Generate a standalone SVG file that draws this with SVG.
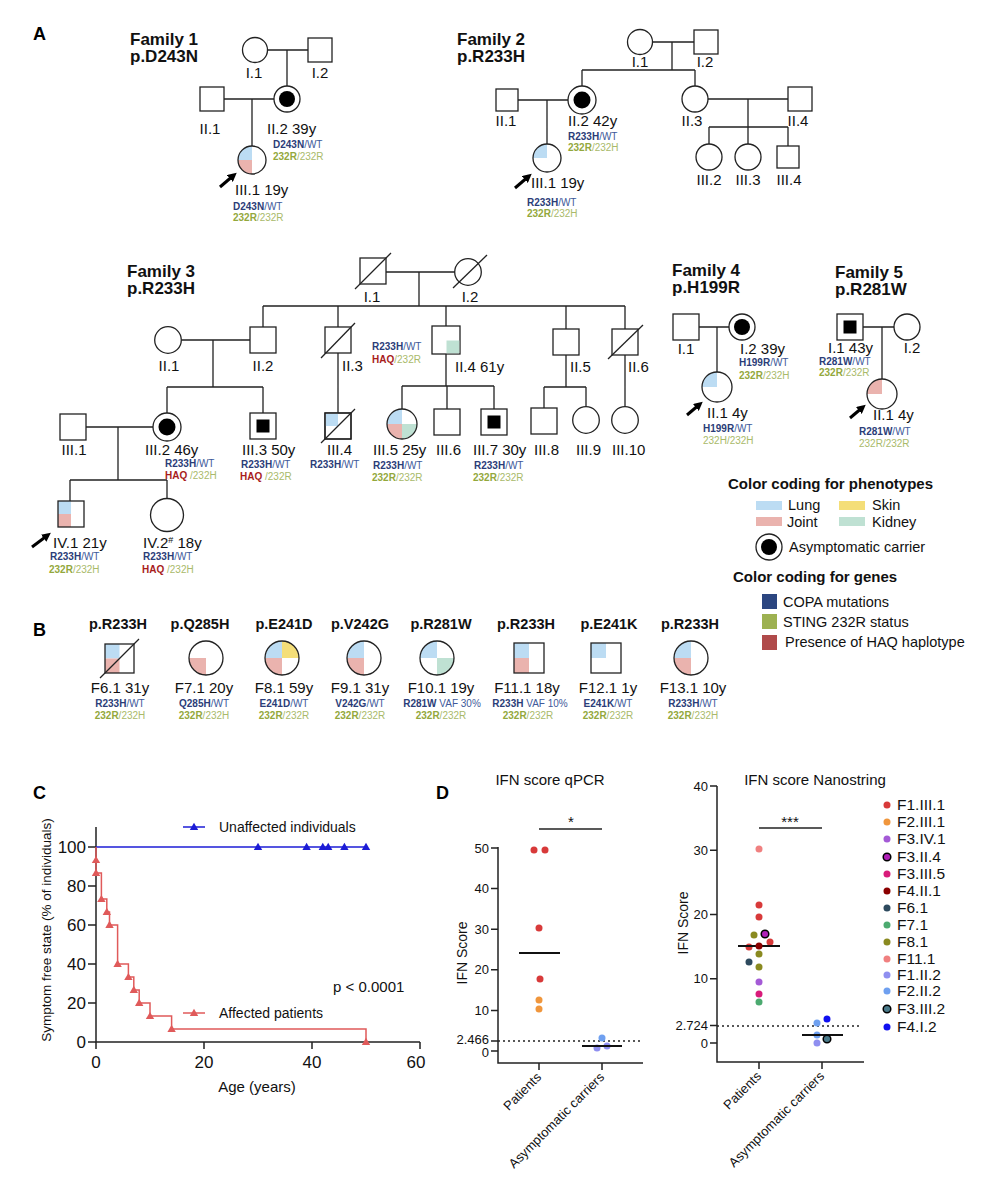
<svg xmlns="http://www.w3.org/2000/svg" width="988" height="1200" viewBox="0 0 988 1200">
<defs>
<style>
text{font-family:"Liberation Sans",Arial,sans-serif;fill:#111}
.pl{font-size:18px;font-weight:bold;fill:#000}
.ft{font-size:17px;font-weight:bold;fill:#111}
.bt{font-size:14.5px;font-weight:bold;fill:#111;text-anchor:middle}
.id{font-size:15px}
.mid{text-anchor:middle}
.g{font-size:10px}
.nb{font-weight:bold;fill:#2b3d78}
.nn{fill:#40599a}
.gb{font-weight:bold;fill:#93a83c}
.gn{fill:#a9ba6a}
.hb{font-weight:bold;fill:#a81c1c}
.sh{fill:#fff;stroke:#222;stroke-width:1.3}
.o{fill:none;stroke:#222;stroke-width:1.3}
.ln{fill:none;stroke:#222;stroke-width:1.3}
.lung{fill:#bcdcf3}
.joint{fill:#eab3ae}
.skin{fill:#f4de78}
.kid{fill:#bfe1d3}
.blk{fill:#000}
.arw{stroke:#000;stroke-width:3;marker-end:url(#pa)}
.lg{font-size:14.5px}
.lgh{font-size:15px;font-weight:bold}
.ax{fill:none;stroke:#222;stroke-width:1.5}
.tk{font-size:17px}
.tk2{font-size:13px;text-anchor:end}
.dt{stroke:#222;stroke-width:1.5;stroke-dasharray:2 3}
.med{stroke:#111;stroke-width:2}
.dl{font-size:15.5px}
</style>
<marker id="pa" viewBox="0 0 10 10" refX="6" refY="5" markerWidth="3" markerHeight="3" orient="auto" markerUnits="strokeWidth"><path d="M0,0 L10,5 L0,10 Z" fill="#000"/></marker>
<path id="tri" d="M0,-4.2 L4.2,3 L-4.2,3 Z"/>
</defs>
<rect width="988" height="1200" fill="#fff"/>

<!-- Panel labels -->
<text class="pl" x="33" y="40">A</text>
<text class="pl" x="33" y="636">B</text>
<text class="pl" x="33" y="799">C</text>
<text class="pl" x="436" y="799">D</text>

<!-- ================= FAMILY 1 ================= -->
<g id="family1">
<text class="ft" x="130" y="45">Family 1</text>
<text class="ft" x="130" y="62">p.D243N</text>
<g id="connectors-f1">
<path class="ln" d="M267.5,50 H308 M287,50 V86 M224,99 H274 M252,99 V146"/>
</g>
<g id="f1-I1"><circle class="sh" cx="255" cy="50" r="12.5"/><text class="id mid" x="254" y="78">I.1</text></g>
<g id="f1-I2"><rect class="sh" x="308" y="38" width="24" height="24"/><text class="id mid" x="320" y="78">I.2</text></g>
<g id="f1-II1"><rect class="sh" x="200" y="87" width="24" height="24"/><text class="id mid" x="210" y="134">II.1</text></g>
<g id="f1-II2"><circle class="sh" cx="287" cy="99" r="13"/><circle class="blk" cx="287" cy="99" r="8"/>
<text class="id" x="267" y="134">II.2 39y</text>
<text class="g" x="273" y="148"><tspan class="nb">D243N</tspan><tspan class="nn">/WT</tspan></text>
<text class="g" x="273" y="160"><tspan class="gb">232R</tspan><tspan class="gn">/232R</tspan></text></g>
<g id="f1-III1">
<path class="lung" d="M252,160 H238 A14,14 0 0 1 252,146 Z"/>
<path class="joint" d="M252,160 V174 A14,14 0 0 1 238,160 Z"/>
<circle class="o" cx="252" cy="160" r="14"/>
<line class="arw" x1="220" y1="187" x2="234" y2="175"/>
<text class="id" x="235" y="195">III.1 19y</text>
<text class="g" x="233" y="210"><tspan class="nb">D243N</tspan><tspan class="nn">/WT</tspan></text>
<text class="g" x="233" y="221"><tspan class="gb">232R</tspan><tspan class="gn">/232R</tspan></text></g>
</g>

<!-- ================= FAMILY 2 ================= -->
<g id="family2">
<text class="ft" x="457" y="45">Family 2</text>
<text class="ft" x="457" y="62">p.R233H</text>
<g id="connectors-f2">
<path class="ln" d="M652.5,42 H694 M672,42 V70 M582,70 H695 M582,70 V86 M695,70 V86 M518,100 H568 M547,100 V144 M708,99 H788 M748,99 V127 M709,127 H788 M709,127 V144 M748,127 V144 M788,127 V146"/>
</g>
<g id="f2-I1"><circle class="sh" cx="640" cy="42" r="12.5"/><text class="id mid" x="640" y="67">I.1</text></g>
<g id="f2-I2"><rect class="sh" x="694" y="30" width="24" height="24"/><text class="id mid" x="705" y="67">I.2</text></g>
<g id="f2-II1"><rect class="sh" x="496" y="89" width="22" height="22"/><text class="id mid" x="506" y="126">II.1</text></g>
<g id="f2-II2"><circle class="sh" cx="582" cy="100" r="14"/><circle class="blk" cx="582" cy="100" r="8.5"/>
<text class="id" x="568" y="126">II.2 42y</text>
<text class="g" x="568" y="140"><tspan class="nb">R233H</tspan><tspan class="nn">/WT</tspan></text>
<text class="g" x="568" y="151"><tspan class="gb">232R</tspan><tspan class="gn">/232H</tspan></text></g>
<g id="f2-II3"><circle class="sh" cx="695" cy="99" r="13"/><text class="id mid" x="692" y="126">II.3</text></g>
<g id="f2-II4"><rect class="sh" x="788" y="87" width="24" height="24"/><text class="id mid" x="798" y="126">II.4</text></g>
<g id="f2-III1">
<path class="lung" d="M547,158 H533 A14,14 0 0 1 547,144 Z"/>
<circle class="o" cx="547" cy="158" r="14"/>
<line class="arw" x1="515" y1="188" x2="529" y2="176"/>
<text class="id" x="531" y="188">III.1 19y</text>
<text class="g" x="527" y="206"><tspan class="nb">R233H</tspan><tspan class="nn">/WT</tspan></text>
<text class="g" x="527" y="217"><tspan class="gb">232R</tspan><tspan class="gn">/232H</tspan></text></g>
<g id="f2-III2"><circle class="sh" cx="709" cy="157" r="13"/><text class="id mid" x="709" y="185">III.2</text></g>
<g id="f2-III3"><circle class="sh" cx="748" cy="157" r="13"/><text class="id mid" x="748" y="185">III.3</text></g>
<g id="f2-III4"><rect class="sh" x="777" y="146" width="22" height="22"/><text class="id mid" x="789" y="185">III.4</text></g>
</g>

<!-- ================= FAMILY 3 ================= -->
<g id="family3">
<text class="ft" x="127" y="277">Family 3</text>
<text class="ft" x="127" y="294">p.R233H</text>
<g id="connectors-f3">
<path class="ln" d="M386,272 H455 M419,272 V306 M263,306 H625 M263,306 V327 M338,306 V327 M446,306 V326 M566,306 V329 M625,306 V329
M181.3,340 H250 M213,340 V387 M167,387 H263 M167,387 V413 M263,387 V413
M338,353 V413 M446,354 V386 M402,386 H494 M402,386 V409 M447,386 V409 M494,386 V409
M566,355 V387 M544,387 H586 M544,387 V408 M586,387 V406.7 M625,355 V406.7
M86,427 H153 M118,427 V480 M70,480 H167 M70,480 V501 M167,480 V498.5"/>
</g>
<g id="f3-I1"><rect class="sh" x="360" y="258" width="26" height="26"/><line class="ln" x1="355" y1="289" x2="391" y2="253"/><text class="id mid" x="372" y="302">I.1</text></g>
<g id="f3-I2"><circle class="sh" cx="468" cy="272" r="13.3"/><line class="ln" x1="453" y1="288" x2="487" y2="255"/><text class="id mid" x="470" y="302">I.2</text></g>
<g id="f3-II1"><circle class="sh" cx="168" cy="340" r="13.3"/><text class="id mid" x="169" y="371">II.1</text></g>
<g id="f3-II2"><rect class="sh" x="250" y="327" width="26" height="26"/><text class="id mid" x="263" y="371">II.2</text></g>
<g id="f3-II3"><rect class="sh" x="325" y="327" width="26" height="26"/><line class="ln" x1="321" y1="358" x2="355" y2="323"/><text class="id" x="342" y="371">II.3</text></g>
<g id="f3-II4">
<rect class="sh" x="432" y="326" width="28" height="28"/>
<rect class="kid" x="446.5" y="340.5" width="12.8" height="12.8"/>
<text class="g" x="372" y="350"><tspan class="nb">R233H</tspan><tspan class="nn">/WT</tspan></text>
<text class="g" x="372" y="363"><tspan class="hb">HAQ</tspan><tspan class="gn">/232R</tspan></text>
<text class="id" x="455" y="372">II.4 61y</text></g>
<g id="f3-II5"><rect class="sh" x="553" y="329" width="26" height="26"/><text class="id" x="570" y="372">II.5</text></g>
<g id="f3-II6"><rect class="sh" x="612" y="329" width="26" height="26"/><line class="ln" x1="608" y1="359" x2="643" y2="325"/><text class="id" x="628" y="372">II.6</text></g>
<g id="f3-III1"><rect class="sh" x="60" y="414" width="26" height="26"/><text class="id mid" x="74" y="455">III.1</text></g>
<g id="f3-III2"><circle class="sh" cx="167" cy="427" r="14"/><circle class="blk" cx="167" cy="427" r="8.5"/>
<text class="id" x="145" y="455">III.2 46y</text>
<text class="g" x="165" y="467"><tspan class="nb">R233H</tspan><tspan class="nn">/WT</tspan></text>
<text class="g" x="165" y="479"><tspan class="hb">HAQ</tspan><tspan class="gn"> /232H</tspan></text></g>
<g id="f3-III3"><rect class="sh" x="250" y="413" width="26" height="26"/><rect class="blk" x="256.5" y="419.5" width="13" height="13"/>
<text class="id" x="242" y="455">III.3 50y</text>
<text class="g" x="241" y="468"><tspan class="nb">R233H</tspan><tspan class="nn">/WT</tspan></text>
<text class="g" x="240" y="480"><tspan class="hb">HAQ</tspan><tspan class="gn"> /232R</tspan></text></g>
<g id="f3-III4"><rect class="sh" x="325" y="413" width="26" height="26"/><rect class="lung" x="325.7" y="413.7" width="12.3" height="12.3"/><rect class="o" x="325" y="413" width="26" height="26"/>
<line class="ln" x1="321" y1="443" x2="355" y2="409"/>
<text class="id" x="327" y="455">III.4</text>
<text class="g" x="310" y="468"><tspan class="nb">R233H</tspan><tspan class="nn">/WT</tspan></text></g>
<g id="f3-III5">
<path class="lung" d="M402,424 H387 A15,15 0 0 1 402,409 Z"/>
<path class="joint" d="M402,424 V439 A15,15 0 0 1 387,424 Z"/>
<path class="kid" d="M402,424 H417 A15,15 0 0 1 402,439 Z"/>
<circle class="o" cx="402" cy="424" r="15"/>
<text class="id" x="373" y="455">III.5 25y</text>
<text class="g" x="373" y="469"><tspan class="nb">R233H</tspan><tspan class="nn">/WT</tspan></text>
<text class="g" x="372" y="481"><tspan class="gb">232R</tspan><tspan class="gn">/232R</tspan></text></g>
<g id="f3-III6"><rect class="sh" x="434" y="409" width="26" height="26"/><text class="id" x="436" y="455">III.6</text></g>
<g id="f3-III7"><rect class="sh" x="481" y="409" width="26" height="26"/><rect class="blk" x="487.5" y="415.5" width="13" height="13"/>
<text class="id" x="473" y="455">III.7 30y</text>
<text class="g" x="474" y="469"><tspan class="nb">R233H</tspan><tspan class="nn">/WT</tspan></text>
<text class="g" x="473" y="481"><tspan class="gb">232R</tspan><tspan class="gn">/232R</tspan></text></g>
<g id="f3-III8"><rect class="sh" x="531" y="408" width="26" height="26"/><text class="id" x="534" y="455">III.8</text></g>
<g id="f3-III9"><circle class="sh" cx="586" cy="420" r="13.3"/><text class="id" x="576" y="455">III.9</text></g>
<g id="f3-III10"><circle class="sh" cx="625" cy="420" r="13.3"/><text class="id" x="612" y="455">III.10</text></g>
<g id="f3-IV1">
<rect class="lung" x="58" y="501" width="13" height="13"/>
<rect class="joint" x="58" y="514" width="13" height="13"/>
<rect class="o" x="58" y="501" width="26" height="26"/>
<line class="arw" x1="32" y1="547" x2="48" y2="535"/>
<text class="id" x="53" y="548">IV.1 21y</text>
<text class="g" x="50" y="560"><tspan class="nb">R233H</tspan><tspan class="nn">/WT</tspan></text>
<text class="g" x="49" y="573"><tspan class="gb">232R</tspan><tspan class="gn">/232H</tspan></text></g>
<g id="f3-IV2"><circle class="sh" cx="167" cy="515" r="16.5"/>
<text class="id" x="143" y="548">IV.2<tspan font-size="9" dy="-5">#</tspan><tspan dy="5"> 18y</tspan></text>
<text class="g" x="143" y="560"><tspan class="nb">R233H</tspan><tspan class="nn">/WT</tspan></text>
<text class="g" x="142" y="573"><tspan class="hb">HAQ</tspan><tspan class="gn"> /232H</tspan></text></g>
</g>

<!-- ================= FAMILY 4 ================= -->
<g id="family4">
<text class="ft" x="672" y="276">Family 4</text>
<text class="ft" x="672" y="293">p.H199R</text>
<g id="connectors-f4"><path class="ln" d="M699,327 H729 M717,327 V372"/></g>
<g id="f4-I1"><rect class="sh" x="673" y="314" width="26" height="26"/><text class="id mid" x="686" y="354">I.1</text></g>
<g id="f4-I2"><circle class="sh" cx="742" cy="327" r="13"/><circle class="blk" cx="742" cy="327" r="8"/>
<text class="id" x="740" y="354">I.2 39y</text>
<text class="g" x="739" y="366"><tspan class="nb">H199R</tspan><tspan class="nn">/WT</tspan></text>
<text class="g" x="739" y="379"><tspan class="gb">232R</tspan><tspan class="gn">/232H</tspan></text></g>
<g id="f4-II1">
<path class="lung" d="M717,387 H702 A15,15 0 0 1 717,372 Z"/>
<circle class="o" cx="717" cy="387" r="15"/>
<line class="arw" x1="687" y1="415" x2="700" y2="404"/>
<text class="id" x="707" y="418">II.1 4y</text>
<text class="g" x="703" y="432"><tspan class="nb">H199R</tspan><tspan class="nn">/WT</tspan></text>
<text class="g" x="703" y="444"><tspan class="gn">232H/232H</tspan></text></g>
</g>

<!-- ================= FAMILY 5 ================= -->
<g id="family5">
<text class="ft" x="835" y="278">Family 5</text>
<text class="ft" x="835" y="295">p.R281W</text>
<g id="connectors-f5"><path class="ln" d="M863,327 H894 M882,327 V379"/></g>
<g id="f5-I1"><rect class="sh" x="837" y="314" width="26" height="26"/><rect class="blk" x="843.5" y="320.5" width="13" height="13"/>
<text class="id" x="828" y="353">I.1 43y</text>
<text class="g" x="819" y="365"><tspan class="nb">R281W</tspan><tspan class="nn">/WT</tspan></text>
<text class="g" x="819" y="376"><tspan class="gb">232R</tspan><tspan class="gn">/232R</tspan></text></g>
<g id="f5-I2"><circle class="sh" cx="907" cy="327" r="13"/><text class="id mid" x="912" y="353">I.2</text></g>
<g id="f5-II1">
<path class="joint" d="M882,394 H867 A15,15 0 0 1 882,379 Z"/>
<circle class="o" cx="882" cy="394" r="15"/>
<line class="arw" x1="850" y1="418" x2="863" y2="407"/>
<text class="id" x="873" y="420">II.1 4y</text>
<text class="g" x="859" y="435"><tspan class="nb">R281W</tspan><tspan class="nn">/WT</tspan></text>
<text class="g" x="859" y="447"><tspan class="gn">232R/232R</tspan></text></g>
</g>

<!-- ================= LEGEND ================= -->
<g id="legend">
<text class="lgh" x="728" y="489">Color coding for phenotypes</text>
<rect class="lung" x="756" y="501" width="26" height="9"/><text class="lg" x="788" y="510">Lung</text>
<rect class="skin" x="839" y="501" width="26" height="9"/><text class="lg" x="872" y="510">Skin</text>
<rect class="joint" x="756" y="517" width="26" height="9"/><text class="lg" x="787" y="527">Joint</text>
<rect class="kid" x="839" y="517" width="26" height="9"/><text class="lg" x="872" y="527">Kidney</text>
<circle class="sh" cx="769" cy="547" r="13"/><circle class="blk" cx="769" cy="547" r="8"/>
<text class="lg" x="789" y="552">Asymptomatic carrier</text>
<text class="lgh" x="733" y="582">Color coding for genes</text>
<rect x="762" y="594" width="15" height="15" fill="#2c4680"/><text class="lg" x="783" y="607">COPA mutations</text>
<rect x="762" y="614" width="15" height="15" fill="#9db151"/><text class="lg" x="783" y="627">STING 232R status</text>
<rect x="762" y="635" width="15" height="15" fill="#b04a4a"/><text class="lg" x="785" y="647">Presence of HAQ haplotype</text>
</g>

<!-- ================= PANEL B ================= -->
<g id="panelB">
<g id="F6">
<text class="bt" x="118" y="629">p.R233H</text>
<rect class="lung" x="105" y="644" width="14.5" height="14.5"/>
<rect class="joint" x="105" y="658.5" width="14.5" height="14.5"/>
<rect class="o" x="105" y="644" width="29" height="29"/>
<line class="ln" x1="100" y1="678" x2="139" y2="639"/>
<text class="id mid" x="120" y="693">F6.1 31y</text>
<text class="g mid" x="120" y="707"><tspan class="nb">R233H</tspan><tspan class="nn">/WT</tspan></text>
<text class="g mid" x="120" y="719"><tspan class="gb">232R</tspan><tspan class="gn">/232H</tspan></text>
</g>
<g id="F7">
<text class="bt" x="200" y="629">p.Q285H</text>
<path class="joint" d="M206,658 V675 A17,17 0 0 1 189,658 Z"/>
<circle class="o" cx="206" cy="658" r="17"/>
<text class="id mid" x="204" y="693">F7.1 20y</text>
<text class="g mid" x="204" y="707"><tspan class="nb">Q285H</tspan><tspan class="nn">/WT</tspan></text>
<text class="g mid" x="204" y="719"><tspan class="gb">232R</tspan><tspan class="gn">/232H</tspan></text>
</g>
<g id="F8">
<text class="bt" x="284" y="629">p.E241D</text>
<path class="lung" d="M282,658 H265 A17,17 0 0 1 282,641 Z"/>
<path class="skin" d="M282,658 V641 A17,17 0 0 1 299,658 Z"/>
<path class="joint" d="M282,658 V675 A17,17 0 0 1 265,658 Z"/>
<circle class="o" cx="282" cy="658" r="17"/>
<text class="id mid" x="284" y="693">F8.1 59y</text>
<text class="g mid" x="284" y="707"><tspan class="nb">E241D</tspan><tspan class="nn">/WT</tspan></text>
<text class="g mid" x="284" y="719"><tspan class="gb">232R</tspan><tspan class="gn">/232R</tspan></text>
</g>
<g id="F9">
<text class="bt" x="360" y="629">p.V242G</text>
<path class="lung" d="M364,658 H347 A17,17 0 0 1 364,641 Z"/>
<path class="joint" d="M364,658 V675 A17,17 0 0 1 347,658 Z"/>
<circle class="o" cx="364" cy="658" r="17"/>
<text class="id mid" x="360" y="693">F9.1 31y</text>
<text class="g mid" x="360" y="707"><tspan class="nb">V242G</tspan><tspan class="nn">/WT</tspan></text>
<text class="g mid" x="360" y="719"><tspan class="gb">232R</tspan><tspan class="gn">/232R</tspan></text>
</g>
<g id="F10">
<text class="bt" x="441" y="629">p.R281W</text>
<path class="lung" d="M437,658 H420 A17,17 0 0 1 437,641 Z"/>
<path class="kid" d="M437,658 H454 A17,17 0 0 1 437,675 Z"/>
<circle class="o" cx="437" cy="658" r="17"/>
<text class="id mid" x="441" y="693">F10.1 19y</text>
<text class="g mid" x="442" y="707"><tspan class="nb">R281W</tspan><tspan class="nn"> VAF 30%</tspan></text>
<text class="g mid" x="441" y="719"><tspan class="gb">232R</tspan><tspan class="gn">/232R</tspan></text>
</g>
<g id="F11">
<text class="bt" x="526" y="629">p.R233H</text>
<rect class="lung" x="514" y="643" width="15" height="15"/>
<rect class="joint" x="514" y="658" width="15" height="15"/>
<rect class="o" x="514" y="643" width="30" height="30"/>
<text class="id mid" x="527" y="693">F11.1 18y</text>
<text class="g mid" x="530" y="707"><tspan class="nb">R233H</tspan><tspan class="nn"> VAF 10%</tspan></text>
<text class="g mid" x="528" y="719"><tspan class="gb">232R</tspan><tspan class="gn">/232R</tspan></text>
</g>
<g id="F12">
<text class="bt" x="609" y="629">p.E241K</text>
<rect class="lung" x="591" y="643" width="15" height="15"/>
<rect class="o" x="591" y="643" width="30" height="30"/>
<text class="id mid" x="608" y="693">F12.1 1y</text>
<text class="g mid" x="608" y="707"><tspan class="nb">E241K</tspan><tspan class="nn">/WT</tspan></text>
<text class="g mid" x="608" y="719"><tspan class="gb">232R</tspan><tspan class="gn">/232R</tspan></text>
</g>
<g id="F13">
<text class="bt" x="690" y="629">p.R233H</text>
<path class="lung" d="M691,658 H674 A17,17 0 0 1 691,641 Z"/>
<path class="joint" d="M691,658 V675 A17,17 0 0 1 674,658 Z"/>
<circle class="o" cx="691" cy="658" r="17"/>
<text class="id mid" x="693" y="693">F13.1 10y</text>
<text class="g mid" x="693" y="707"><tspan class="nb">R233H</tspan><tspan class="nn">/WT</tspan></text>
<text class="g mid" x="693" y="719"><tspan class="gb">232R</tspan><tspan class="gn">/232H</tspan></text>
</g>
</g>

<!-- ================= PANEL C ================= -->
<g id="panelC">
<path class="ax" d="M96,827 V1042 H420"/>
<path class="ax" d="M88,847 H96 M88,886 H96 M88,925 H96 M88,964 H96 M88,1003 H96 M88,1042 H96 M96,1042 V1049 M204,1042 V1049 M312,1042 V1049 M420,1042 V1049"/>
<g class="tk" text-anchor="end">
<text x="86" y="853">100</text><text x="86" y="892">80</text><text x="86" y="931">60</text><text x="86" y="970">40</text><text x="86" y="1009">20</text><text x="86" y="1048">0</text>
</g>
<g class="tk" text-anchor="middle">
<text x="96" y="1068">0</text><text x="204" y="1068">20</text><text x="312" y="1068">40</text><text x="416" y="1068">60</text>
</g>
<text font-size="15" x="257" y="1092" text-anchor="middle">Age (years)</text>
<text font-size="13.5" transform="translate(51,930) rotate(-90)" text-anchor="middle">Symptom free state (% of individuals)</text>
<g id="curve-unaffected" fill="#1c1cd6">
<path d="M96,847 H366" stroke="#1c1cd6" stroke-width="1.5" fill="none"/>
<use href="#tri" x="258" y="847"/><use href="#tri" x="306.6" y="847"/><use href="#tri" x="322.8" y="847"/><use href="#tri" x="328.2" y="847"/><use href="#tri" x="344.4" y="847"/><use href="#tri" x="366" y="847"/>
<path d="M183,827 H205" stroke="#1c1cd6" stroke-width="1.5"/><use href="#tri" x="194" y="827"/>
</g>
<text font-size="14" x="219" y="832">Unaffected individuals</text>
<g id="curve-affected" fill="#e05a5a">
<path d="M96,847 V872.9 H101.4 V899.1 H106.8 V911.9 H109.5 V925 H117.6 V964 H128.4 V977.1 H133.8 V989.9 H139.2 V1003 H150 V1016.1 H171.6 V1028.9 H366 V1042" stroke="#e05a5a" stroke-width="1.5" fill="none"/>
<use href="#tri" x="96" y="860.1"/><use href="#tri" x="96" y="872.9"/><use href="#tri" x="101.4" y="899.1"/><use href="#tri" x="106.8" y="911.9"/><use href="#tri" x="109.5" y="925"/><use href="#tri" x="117.6" y="964"/><use href="#tri" x="128.4" y="977.1"/><use href="#tri" x="133.8" y="989.9"/><use href="#tri" x="139.2" y="1003"/><use href="#tri" x="150" y="1016.1"/><use href="#tri" x="171.6" y="1028.9"/><use href="#tri" x="366" y="1042"/>
<path d="M183,1013 H205" stroke="#e05a5a" stroke-width="1.5"/><use href="#tri" x="194" y="1013"/>
</g>
<text font-size="14" x="219" y="1018">Affected patients</text>
<text font-size="15" x="333" y="992">p &lt; 0.0001</text>
</g>

<!-- ================= PANEL D left ================= -->
<g id="panelD-qpcr">
<text font-size="15" x="550" y="785" text-anchor="middle">IFN score qPCR</text>
<path class="ax" d="M498,847 V1063 H643"/>
<path class="ax" d="M491,848 H498 M491,888.6 H498 M491,929.2 H498 M491,969.8 H498 M491,1010.4 H498 M491,1051 H498 M491,1041 H498 M539,1063 V1070 M602,1063 V1070"/>
<g class="tk2">
<text x="489" y="853">50</text><text x="489" y="893">40</text><text x="489" y="934">30</text><text x="489" y="974">20</text><text x="489" y="1015">10</text><text x="489" y="1044">2.466</text><text x="489" y="1057">0</text>
</g>
<line class="dt" x1="498" y1="1041" x2="641" y2="1041"/>
<text font-size="14" transform="translate(467,953) rotate(-90)" text-anchor="middle">IFN Score</text>
<line x1="539" y1="829" x2="602" y2="829" stroke="#222" stroke-width="1.3"/>
<text font-size="15" x="571" y="827" text-anchor="middle">*</text>
<circle cx="534" cy="850" r="3.5" fill="#d83a3a"/><circle cx="545" cy="850" r="3.5" fill="#d83a3a"/>
<circle cx="539" cy="928" r="3.5" fill="#d83a3a"/><circle cx="540" cy="979" r="3.5" fill="#d83a3a"/>
<circle cx="539" cy="1000" r="3.5" fill="#f0963c"/><circle cx="539" cy="1009" r="3.5" fill="#f0963c"/>
<line class="med" x1="519" y1="953" x2="560" y2="953"/>
<circle cx="602" cy="1038" r="3.5" fill="#6fa0f0"/><circle cx="597" cy="1048" r="3.5" fill="#8f8ff0"/><circle cx="607" cy="1046" r="3.5" fill="#8f8ff0"/>
<line class="med" x1="582" y1="1046" x2="622" y2="1046"/>
<text font-size="13" transform="translate(542,1078) rotate(-45)" text-anchor="end">Patients</text>
<text font-size="13" transform="translate(605,1078) rotate(-45)" text-anchor="end">Asymptomatic carriers</text>
</g>

<!-- ================= PANEL D right ================= -->
<g id="panelD-nanostring">
<text font-size="15" x="815" y="785" text-anchor="middle">IFN score Nanostring</text>
<path class="ax" d="M717,786 V1062 H864"/>
<path class="ax" d="M710,786 H717 M710,850.3 H717 M710,914.4 H717 M710,978.7 H717 M710,1043 H717 M710,1025.5 H717 M759,1062 V1069 M822,1062 V1069"/>
<g class="tk2">
<text x="708" y="791">40</text><text x="708" y="855">30</text><text x="708" y="919">20</text><text x="708" y="983">10</text><text x="708" y="1030">2.724</text><text x="708" y="1048">0</text>
</g>
<line class="dt" x1="717" y1="1026" x2="861" y2="1026"/>
<text font-size="14" transform="translate(688,923) rotate(-90)" text-anchor="middle">IFN Score</text>
<line x1="759" y1="828" x2="822" y2="828" stroke="#222" stroke-width="1.3"/>
<text font-size="15" x="790" y="827" text-anchor="middle">***</text>
<circle cx="759" cy="849" r="3.5" fill="#f08080"/>
<circle cx="759" cy="905" r="3.5" fill="#d83a3a"/>
<circle cx="759" cy="917" r="3.5" fill="#d83a3a"/>
<circle cx="754" cy="935" r="3.5" fill="#8a8a20"/>
<circle cx="765" cy="934" r="3.8" fill="#b020b8" stroke="#000" stroke-width="1.5"/>
<circle cx="749" cy="947" r="3.5" fill="#d83a3a"/>
<circle cx="770" cy="942" r="3.5" fill="#d83a3a"/>
<circle cx="759" cy="954" r="3.5" fill="#8a8a20"/>
<circle cx="749" cy="962" r="3.5" fill="#2e4a5e"/>
<circle cx="759" cy="967" r="3.5" fill="#8a8a20"/>
<circle cx="759" cy="982" r="3.5" fill="#a45ad6"/>
<circle cx="759" cy="994" r="3.5" fill="#d81b7a"/>
<circle cx="759" cy="1002" r="3.5" fill="#4caa70"/>
<line class="med" x1="738" y1="946" x2="780" y2="946"/>
<circle cx="759" cy="946" r="3.5" fill="#8b0000"/>
<circle cx="817" cy="1023" r="3.5" fill="#6fa0f0"/>
<circle cx="827" cy="1019" r="3.5" fill="#1010f0"/>
<circle cx="817" cy="1035" r="3.5" fill="#6fa0f0"/>
<circle cx="817" cy="1043" r="3.5" fill="#8f8ff0"/>
<line class="med" x1="802" y1="1035" x2="843" y2="1035"/>
<circle cx="827" cy="1039" r="3.8" fill="#4a7a8a" stroke="#000" stroke-width="1.5"/>
<text font-size="13" transform="translate(762,1077) rotate(-45)" text-anchor="end">Patients</text>
<text font-size="13" transform="translate(825,1077) rotate(-45)" text-anchor="end">Asymptomatic carriers</text>
</g>

<g id="legendD">
<circle cx="887" cy="805" r="3.5" fill="#d83a3a"/><text class="dl" x="897" y="810">F1.III.1</text>
<circle cx="887" cy="822" r="3.5" fill="#f0963c"/><text class="dl" x="897" y="827">F2.III.1</text>
<circle cx="887" cy="839" r="3.5" fill="#a45ad6"/><text class="dl" x="897" y="844">F3.IV.1</text>
<circle cx="887" cy="857" r="3.8" fill="#b020b8" stroke="#000" stroke-width="1.5"/><text class="dl" x="897" y="862">F3.II.4</text>
<circle cx="887" cy="874" r="3.5" fill="#d81b7a"/><text class="dl" x="897" y="879">F3.III.5</text>
<circle cx="887" cy="891" r="3.5" fill="#8b0000"/><text class="dl" x="897" y="896">F4.II.1</text>
<circle cx="887" cy="908" r="3.5" fill="#2e4a5e"/><text class="dl" x="897" y="913">F6.1</text>
<circle cx="887" cy="925" r="3.5" fill="#4caa70"/><text class="dl" x="897" y="930">F7.1</text>
<circle cx="887" cy="942" r="3.5" fill="#8a8a20"/><text class="dl" x="897" y="947">F8.1</text>
<circle cx="887" cy="959" r="3.5" fill="#f08080"/><text class="dl" x="897" y="964">F11.1</text>
<circle cx="887" cy="975" r="3.5" fill="#8f8ff0"/><text class="dl" x="897" y="980">F1.II.2</text>
<circle cx="887" cy="991" r="3.5" fill="#6fa0f0"/><text class="dl" x="897" y="996">F2.II.2</text>
<circle cx="887" cy="1009" r="3.8" fill="#4a7a8a" stroke="#000" stroke-width="1.5"/><text class="dl" x="897" y="1014">F3.III.2</text>
<circle cx="887" cy="1027" r="3.5" fill="#1010f0"/><text class="dl" x="897" y="1032">F4.I.2</text>
</g>
</svg>
